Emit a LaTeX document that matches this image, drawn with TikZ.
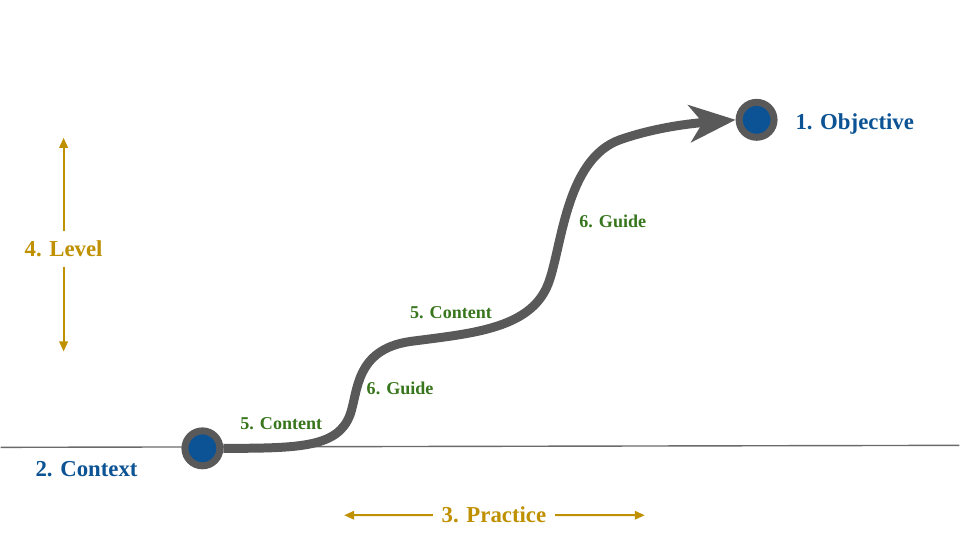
\documentclass[tikz,border=0pt]{standalone}
\usepackage{fontspec}
\setmainfont{Liberation Serif}
\usetikzlibrary{arrows.meta, positioning}
\definecolor{pathgray}{HTML}{595959}
\definecolor{linegray}{HTML}{6A6A6A}
\definecolor{stepblue}{HTML}{0B5394}
\definecolor{stepgold}{HTML}{BF9000}
\definecolor{stepgreen}{HTML}{38761D}

\begin{document}
\begin{tikzpicture}[
x = 0.02cm, y = -0.02cm,
   dot/.style = {circle, draw=pathgray, fill=stepblue,
                 line width=0.14cm, minimum size=0.7cm, inner sep=0pt},
   big/.style = {font=\fontsize{13}{15}\selectfont\bfseries,
                 inner sep=0pt, outer sep=0pt, yshift=-0.04cm},
   lbl/.style = {font=\fontsize{10.3}{12}\selectfont\bfseries,
                 text=stepgreen, inner sep=0pt},
  road/.style = {draw=pathgray, line width=0.18cm,
                 -{Stealth[length=0.92cm, width=0.74cm, inset=0.26cm]}},
   dim/.style = {draw=stepgold, line width=0.04cm, shorten <=0.18cm,
                 -{Triangle[length=0.2cm, width=0.17cm]}}
                        ]
    % ground line
\coordinate (gl) at (0,448);
\coordinate (gr) at (960,446);
\draw[linegray, line width=0.8pt] (gl) -- (gr);
    % start and goal
\node (start) [dot] at (202,449) {};
\node (goal)  [dot] at (757,120) {};
\node (obj) [big, text=stepblue, right=0.36cm of goal, yshift=-0.05cm] {1. Objective};
\node (ctx) [big, text=stepblue] at (86,468) {2. Context};
    % the way up
\draw[road] (start.east) .. controls (300,449) and (338,448) .. (350,415)
                         .. controls (358,392) and (355,350) .. (410,342)
                         .. controls (470,334) and (530,330) .. (548,285)
                         .. controls (562,250) and (565,160) .. (620,140)
                         .. controls (660,126) and (700,123) .. (goal.west);
\node (c1) [lbl] at (281,424) {5. Content};
\node (g1) [lbl] at (400,389) {6. Guide};
\node (c2) [lbl] at (451,313) {5. Content};
\node (g2) [lbl] at (613,222) {6. Guide};
    % practice and level
\node (prc) [big, text=stepgold] at (494,514) {3. Practice};
\coordinate (pl) at (344,516);
\coordinate (pr) at (645,516);
\draw[dim] (prc.west) -- (pl);
\draw[dim] (prc.east) -- (pr);
\node (lvl) [big, text=stepgold] at (63,247) {4. Level};
\coordinate (lt) at (63,138);
\coordinate (lb) at (63,352);
\draw[dim, shorten <=0.2cm] (lvl.north) -- (lt);
\draw[dim, shorten <=0.2cm] (lvl.south) -- (lb);
\useasboundingbox (0,0) rectangle (960,540);
\end{tikzpicture}
\end{document}
